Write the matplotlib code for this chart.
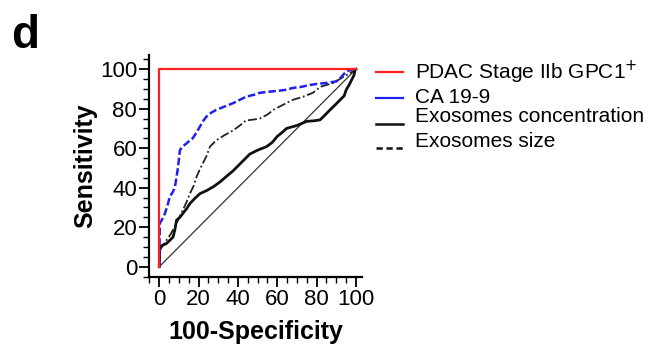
import matplotlib
matplotlib.use("Agg")
import matplotlib.pyplot as plt
from matplotlib.lines import Line2D
from matplotlib.ticker import MultipleLocator

plt.rcParams['font.family'] = ['Liberation Sans', 'DejaVu Sans']

# ROC curves (100-Specificity, Sensitivity)
gpc1_x = [0, 0, 100]
gpc1_y = [0, 100, 100]

ca199_x = [0, 0.3, 1.5, 2.9, 4.2, 5.4, 7.0, 8.0, 9.5, 10.5, 12.0, 14.0, 15.5, 17.0, 19.0, 20.7, 22.5, 24.0, 26.5, 29.0, 33.0, 37.6, 41.0, 44.0, 48.0, 51.0, 55.0, 60.0, 64.0, 68.0, 72.0, 76.6, 80.0, 85.0, 88.0, 90.0, 92.5, 95.0, 97.0, 98.0, 100.0]
ca199_y = [0, 22.0, 24.0, 27.0, 31.0, 35.5, 38.0, 40.5, 50.0, 59.0, 61.0, 62.5, 64.0, 65.0, 68.0, 71.0, 74.0, 76.0, 78.0, 79.4, 81.0, 82.8, 84.5, 86.0, 87.0, 88.0, 88.5, 89.0, 89.5, 90.5, 91.0, 92.0, 92.5, 93.0, 93.5, 93.8, 96.0, 98.8, 99.5, 100.0, 100.0]

conc_x = [0, 0.3, 2.0, 3.7, 5.5, 7.0, 8.0, 8.8, 10.5, 12.0, 14.0, 15.6, 18.0, 20.7, 24.0, 27.5, 31.0, 34.0, 37.5, 41.0, 43.5, 46.0, 50.0, 54.6, 57.5, 60.0, 62.5, 64.7, 70.0, 75.0, 78.0, 81.7, 84.0, 86.8, 89.5, 92.0, 94.0, 95.0, 96.5, 97.8, 99.0, 99.5, 100.0]
conc_y = [0, 10.0, 11.0, 11.8, 13.5, 15.0, 19.0, 23.6, 25.0, 27.0, 29.5, 32.0, 34.5, 37.0, 38.5, 40.5, 43.0, 45.6, 48.5, 52.0, 54.5, 57.0, 59.0, 60.8, 63.0, 66.0, 68.0, 70.0, 71.5, 73.6, 73.8, 74.3, 76.5, 79.4, 82.0, 84.5, 86.5, 89.5, 92.0, 94.6, 97.0, 99.7, 100.0]

size_x = [0, 0.3, 2.0, 3.7, 5.5, 7.0, 9.5, 12.0, 14.0, 15.6, 17.5, 19.0, 20.5, 22.0, 24.0, 25.8, 27.5, 29.0, 33.0, 37.6, 41.0, 44.0, 48.0, 51.0, 55.0, 58.0, 63.0, 68.0, 73.0, 78.0, 80.0, 81.7, 85.0, 88.5, 91.0, 93.5, 97.0, 100.0]
size_y = [0, 8.4, 11.0, 13.5, 16.0, 18.6, 23.5, 28.7, 33.0, 37.0, 41.0, 45.6, 49.0, 52.0, 56.0, 60.8, 62.5, 64.0, 66.5, 69.0, 71.5, 74.0, 74.5, 75.0, 77.0, 79.4, 82.0, 84.5, 86.0, 88.0, 89.5, 91.0, 92.0, 93.0, 94.5, 96.0, 98.0, 100.0]

ref_x = [0, 100]
ref_y = [0, 100]

legend_labels = ["PDAC Stage IIb GPC1$^{+}$", "CA 19-9", "Exosomes concentration", "Exosomes size"]

fig = plt.figure(figsize=(6.51, 3.47), dpi=100)
ax = fig.add_axes([0.2289, 0.2017, 0.327, 0.640])

ax.plot(ref_x, ref_y, color='#333333', lw=0.9)
ax.plot(size_x, size_y, color='#222222', lw=1.3, linestyle=(0, (5, 1.5, 1, 1.5)))
ax.plot(conc_x, conc_y, color='#111111', lw=2.0)
ax.plot(ca199_x, ca199_y, color='#2020ee', lw=1.8, linestyle=(0, (3, 1.2)))
ax.plot(gpc1_x, gpc1_y, color='#ff2020', lw=1.6)

ax.set_xlim(-5.2, 103)
ax.set_ylim(-5.2, 107.2)
for s in ['top', 'right']:
    ax.spines[s].set_visible(False)
for s in ['left', 'bottom']:
    ax.spines[s].set_linewidth(1.6)
ax.xaxis.set_minor_locator(MultipleLocator(5))
ax.yaxis.set_minor_locator(MultipleLocator(5))
ax.set_xticks(range(0, 101, 20))
ax.set_yticks(range(0, 101, 20))
ax.tick_params(which='major', length=7, width=1.3, labelsize=16, pad=1.5)
ax.tick_params(which='minor', length=4, width=1.0)
ax.set_xlabel("100-Specificity", fontsize=18, fontweight='bold', labelpad=7)
ax.set_ylabel("Sensitivity", fontsize=18, fontweight='bold', labelpad=2)

fig.text(0.017, 0.862, "d", fontsize=33, fontweight='bold')

# manual legend
handles = [
    dict(color='#ff2020', ls='-', lw=1.6),
    dict(color='#2020ee', ls='-', lw=1.6),
    dict(color='#111111', ls='-', lw=1.8),
    dict(color='#111111', ls=(0, (2.5, 1.5)), lw=1.8),
]
handle_y = [72, 98, 124, 148]
text_base = [79, 103, 122, 147]
for h, hy, ty, lab in zip(handles, handle_y, text_base, legend_labels):
    fy = 1 - hy / 347
    fig.add_artist(Line2D([376 / 651, 403 / 651], [fy, fy], transform=fig.transFigure, **h))
    fig.text(415 / 651, 1 - ty / 347, lab, fontsize=15, va='baseline', ha='left')

fig.savefig("out.png", dpi=100)
